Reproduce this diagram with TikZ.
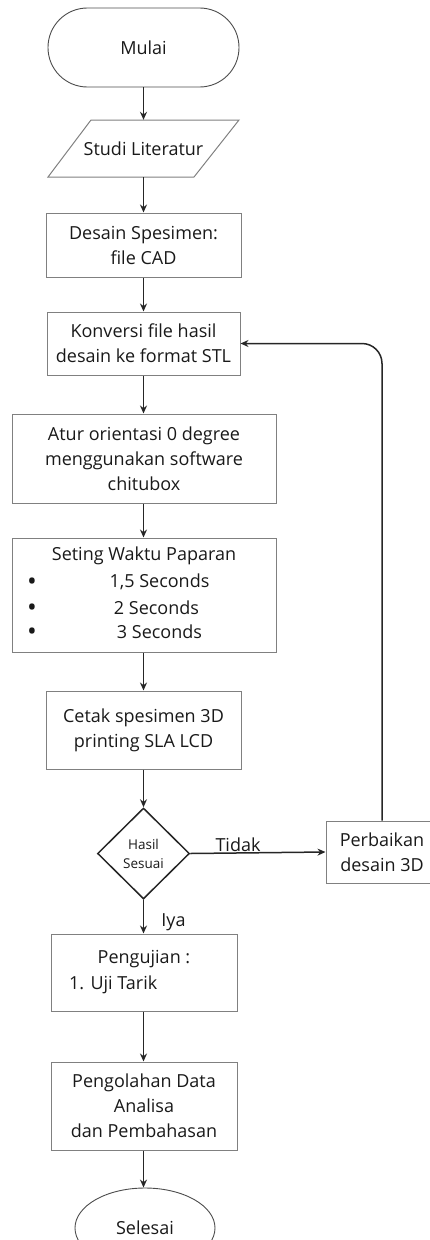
\documentclass[tikz,border=0pt]{standalone}
\usepackage{fontspec}
\setmainfont{Open Sans}
\usetikzlibrary{arrows.meta,shapes.geometric}
\begin{document}
\begin{tikzpicture}[x=1pt,y=-1pt,
  every node/.style={font=\fontsize{18}{25}\selectfont, text=black!90, inner sep=0pt, align=center},
  boxline/.style={draw=black!50, line width=1pt},
  procbox/.style={boxline, rectangle},
  termbox/.style={draw=black!70, line width=0.9pt},
  arr/.style={draw=black!85, line width=1.5pt, -{Stealth[length=8pt,width=7pt]}},
  small/.style={font=\fontsize{13.5}{19}\selectfont},
  bul/.style={font=\fontsize{26}{25}\selectfont}
]
\useasboundingbox (0,0) rectangle (430,1240);

% nodes
\node[termbox, rounded corners=39.4pt, minimum width=191pt, minimum height=79pt] (mulai) at (143.5,47.5) {Mulai};
\node[minimum width=147pt, minimum height=57pt] (studi) at (143.5,148.5) {Studi Literatur};
\draw[boxline] ([xshift=-52.5pt,yshift=28.5pt]studi.center) -- ([xshift=95.5pt,yshift=28.5pt]studi.center)
  -- ([xshift=50.5pt,yshift=-28.5pt]studi.center) -- ([xshift=-95.5pt,yshift=-28.5pt]studi.center) -- cycle;
\node[procbox, minimum width=195pt, minimum height=64pt] (desain) at (143.5,245) {Desain Spesimen:\\file CAD};
\node[procbox, minimum width=193pt, minimum height=63pt] (konversi) at (143.5,343.5) {Konversi file hasil\\desain ke format STL};
\node[procbox, minimum width=264pt, minimum height=89pt] (atur) at (144,458.5) {Atur orientasi 0 degree\\menggunakan software\\chitubox};
\node[procbox, minimum width=264pt, minimum height=114pt] (seting) at (144,595) {};
\node (st0) at (144,556) {Seting Waktu Paparan};
\node[bul] (b1) at (32,584.5) {•};
\node[bul] (b2) at (32,610.5) {•};
\node[bul] (b3) at (32,634.5) {•};
\node (st1) at (159.5,582) {1,5 Seconds};
\node (st2) at (156.5,608) {2 Seconds};
\node (st3) at (159.5,632) {3 Seconds};
\node[procbox, minimum width=195pt, minimum height=78pt] (cetak) at (143.5,730) {Cetak spesimen 3D\\printing SLA LCD};
\node[diamond, aspect=1, draw=black!85, line width=1.5pt, minimum width=92pt, minimum height=91pt, small] (hasil) at (143.5,853.5) {Hasil\\Sesuai};
\node[procbox, minimum width=112pt, minimum height=62pt] (perbaikan) at (382,852) {Perbaikan\\desain 3D};
\node[procbox, minimum width=186pt, minimum height=77pt] (pengujian) at (144,972.5) {};
\node (pj1) at (144,959) {Pengujian :};
\node[anchor=west] (pj2) at (69,985) {1. Uji Tarik};
\node[procbox, minimum width=186pt, minimum height=88pt] (pengolahan) at (144,1106) {Pengolahan Data\\Analisa\\dan Pembahasan};
\node[ellipse, termbox, minimum width=140pt, minimum height=80pt] (selesai) at (145,1228) {Selesai};

% labels
\node (tidak) at (238,845) {Tidak};
\node (iya) at (173.5,922) {Iya};

% connectors
\draw[arr] (mulai.south) -- (studi.north);
\draw[arr] (studi.south) -- (desain.north);
\draw[arr] (desain.south) -- (konversi.north);
\draw[arr] (konversi.south) -- (konversi.south |- atur.north);
\draw[arr] (konversi.south |- atur.south) -- (konversi.south |- seting.north);
\draw[arr] (konversi.south |- seting.south) -- (cetak.north);
\draw[arr] (cetak.south) -- (hasil.north);
\draw[arr] (hasil.south) -- (hasil.south |- pengujian.north);
\draw[arr] (hasil.east) -- (perbaikan.west);
\draw[arr, rounded corners=20pt] (perbaikan.north) |- (konversi.east);
\draw[arr] (hasil.south |- pengujian.south) -- (hasil.south |- pengolahan.north);
\draw[arr] (hasil.south |- pengolahan.south) -- (hasil.south |- selesai.north);
\end{tikzpicture}
\end{document}
